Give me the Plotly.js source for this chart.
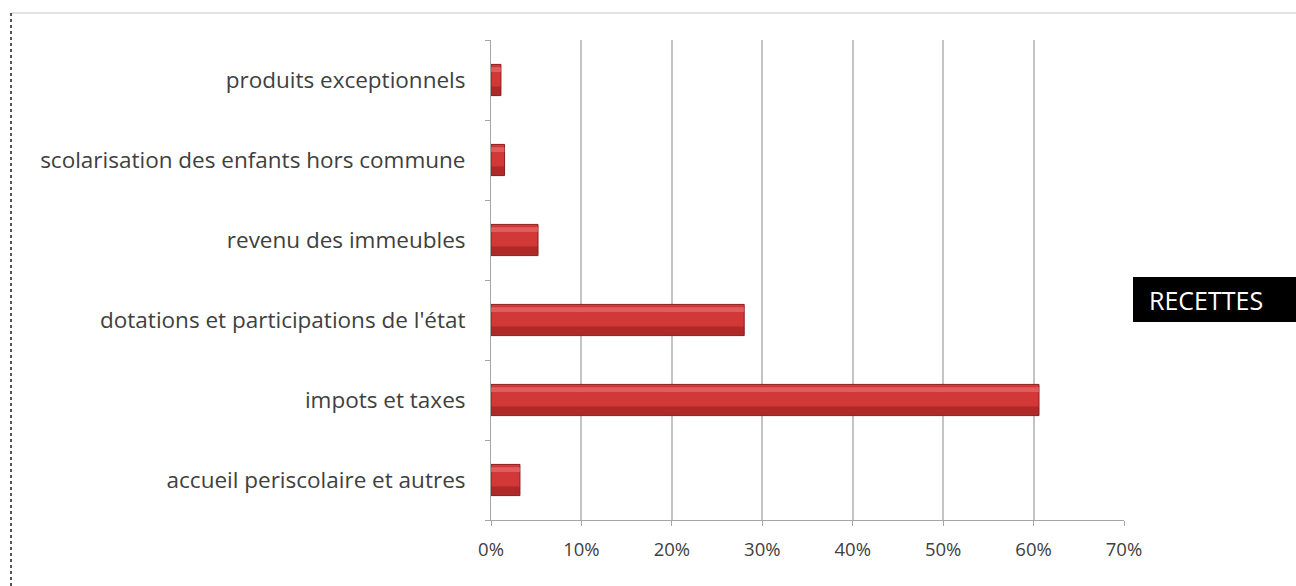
<!DOCTYPE html>
<html><head><meta charset="utf-8">
<script src="https://cdn.plot.ly/plotly-3.0.1.min.js"></script>
<style>html,body{margin:0;padding:0;background:#fff}#c{width:1296px;height:586px}</style>
</head><body><div id="c"></div>
<script>
var categories = ["accueil periscolaire et autres","impots et taxes","dotations et participations de l'état","revenu des immeubles","scolarisation des enfants hors commune","produits exceptionnels"];
var values = [0.032, 0.606, 0.280, 0.052, 0.015, 0.011];
var seriesName = "RECETTES";
var xTicks = [0,0.1,0.2,0.3,0.4,0.5,0.6,0.7];
var xTickLabels = ["0%","10%","20%","30%","40%","50%","60%","70%"];

var main = {
  type: "bar", orientation: "h", y: categories, x: values, name: seriesName,
  width: 0.39,
  marker: {color: "#d33838", line: {color: "#8a1e1e", width: 1}},
  hoverinfo: "x+y"
};
var shade = {
  type: "bar", orientation: "h", y: categories, x: values, name: seriesName + " shade",
  width: 0.11, offset: -0.19,
  marker: {color: "rgba(140,25,25,0.5)", line: {width: 0}},
  hoverinfo: "skip"
};
var light = {
  type: "bar", orientation: "h", y: categories, x: values, name: seriesName + " light",
  width: 0.06, offset: 0.10,
  marker: {color: "rgba(240,130,130,0.5)", line: {width: 0}},
  hoverinfo: "skip"
};
var font = "'Open Sans', sans-serif";
var layout = {
  width: 1296, height: 586,
  margin: {l: 491, r: 172, t: 40, b: 66},
  paper_bgcolor: "#fff", plot_bgcolor: "#fff",
  showlegend: false, barmode: "overlay",
  font: {family: font, color: "#404040", size: 19},
  xaxis: {
    range: [0, 0.7], tickvals: xTicks, ticktext: xTickLabels,
    showgrid: true, gridcolor: "#c4c4c4", gridwidth: 2,
    zeroline: false, showline: true, linecolor: "#a6a6a6", linewidth: 1,
    ticks: "outside", ticklen: 5, tickcolor: "#a6a6a6",
    ticklabelstandoff: 8,
    tickfont: {size: 18.5, color: "#404040", family: font}, fixedrange: true
  },
  yaxis: {
    type: "category", showgrid: false, zeroline: false,
    showline: true, linecolor: "#a6a6a6", linewidth: 1,
    ticks: "outside", ticklen: 5, tickcolor: "#a6a6a6", tickson: "boundaries",
    ticklabelstandoff: 20,
    tickfont: {size: 22.5, color: "#404040", family: font}, fixedrange: true
  },
  annotations: [{
    xref: "paper", yref: "paper", x: 1.0364, y: 0.459, xanchor: "left", yanchor: "middle",
    text: seriesName, showarrow: false,
    font: {color: "#fff", size: 25, family: font}
  }],
  shapes: [
    {type: "rect", xref: "paper", yref: "paper", x0: 1.0142, x1: 1.3, y0: 0.4125, y1: 0.50625, fillcolor: "#000", line: {width: 0}},
    {type: "line", xref: "paper", yref: "paper", x0: -0.7583, x1: 1.3, y0: 1.056, y1: 1.056, line: {color: "#d9d9d9", width: 1.5}},
    {type: "line", xref: "paper", yref: "paper", x0: -0.7583, x1: -0.7583, y0: 1.056, y1: -0.2, line: {color: "#555", width: 2, dash: "dot"}}
  ]
};
Plotly.newPlot("c", [main, shade, light], layout, {displayModeBar: false, staticPlot: true});
</script></body></html>
